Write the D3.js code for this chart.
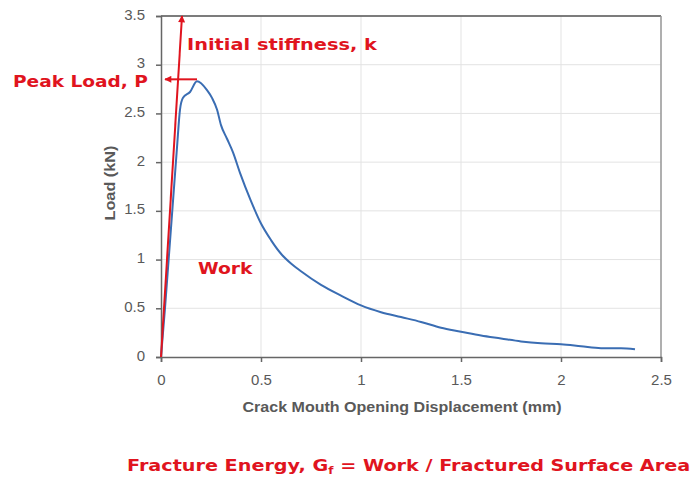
<!DOCTYPE html>
<html>
<head>
<meta charset="utf-8">
<script src="https://cdn.jsdelivr.net/npm/d3@7"></script>
<style>
  body { margin: 0; background: #fff; }
  svg { display: block; }
</style>
</head>
<body>
<script>
// load vs CMOD curve
const cmod = [0, 0.02, 0.04, 0.06, 0.08, 0.095, 0.11, 0.145, 0.18, 0.23, 0.255, 0.28, 0.3, 0.33, 0.36, 0.395, 0.45, 0.5, 0.55, 0.6, 0.65, 0.7, 0.8, 0.9, 1.0, 1.1, 1.2, 1.3, 1.4, 1.5, 1.6, 1.7, 1.8, 1.9, 2.0, 2.1, 2.2, 2.3, 2.37];
const load = [0, 0.5, 1.05, 1.6, 2.15, 2.54, 2.66, 2.72, 2.83, 2.74, 2.66, 2.54, 2.38, 2.24, 2.1, 1.89, 1.6, 1.37, 1.2, 1.06, 0.96, 0.88, 0.74, 0.63, 0.53, 0.46, 0.41, 0.36, 0.3, 0.26, 0.22, 0.19, 0.16, 0.14, 0.13, 0.11, 0.09, 0.09, 0.08];

const xTicks = [0, 0.5, 1, 1.5, 2, 2.5];
const yTicks = [0, 0.5, 1, 1.5, 2, 2.5, 3, 3.5];

const stiffnessLine = [[0, 0], [0.105, 3.5]];
const peakArrow = [[0.18, 2.85], [0.02, 2.85]];

const width = 695, height = 481;
const margin = {left: 161, right: 34, top: 16, bottom: 124};
const red = "#e0141e";
const grey = "#595959";

const x = d3.scaleLinear().domain([0, 2.5]).range([margin.left, width - margin.right]);
const y = d3.scaleLinear().domain([0, 3.5]).range([height - margin.bottom, margin.top]);

const svg = d3.select("body").append("svg")
  .attr("width", width)
  .attr("height", height);

const defs = svg.append("defs");
defs.append("marker")
  .attr("id", "arr")
  .attr("viewBox", "0 0 10 10")
  .attr("refX", 9).attr("refY", 5)
  .attr("markerWidth", 9).attr("markerHeight", 7)
  .attr("markerUnits", "userSpaceOnUse")
  .attr("orient", "auto")
  .append("path")
  .attr("d", "M0,0L10,5L0,10Z")
  .attr("fill", red);

// grid
svg.append("g")
  .selectAll("line")
  .data(xTicks.slice(1))
  .join("line")
  .attr("x1", d => x(d)).attr("x2", d => x(d))
  .attr("y1", y(0)).attr("y2", y(3.5))
  .attr("stroke", "#e3e3e3");
svg.append("g")
  .selectAll("line")
  .data(yTicks.slice(1))
  .join("line")
  .attr("x1", x(0)).attr("x2", x(2.5))
  .attr("y1", d => y(d)).attr("y2", d => y(d))
  .attr("stroke", "#e3e3e3");

// frame top and right
svg.append("line")
  .attr("x1", x(0)).attr("x2", x(2.5)).attr("y1", y(3.5)).attr("y2", y(3.5))
  .attr("stroke", "#555").attr("stroke-width", 1.5);
svg.append("line")
  .attr("x1", x(2.5)).attr("x2", x(2.5)).attr("y1", y(3.5)).attr("y2", y(0))
  .attr("stroke", "#999").attr("stroke-width", 1.5);

// axes
const xAxis = svg.append("g")
  .attr("transform", `translate(0,${y(0)})`)
  .call(d3.axisBottom(x).tickValues(xTicks).tickSize(5).tickPadding(12).tickFormat(d3.format("")));
const yAxis = svg.append("g")
  .attr("transform", `translate(${x(0)},0)`)
  .call(d3.axisLeft(y).tickValues(yTicks).tickSize(5).tickPadding(11).tickFormat(d3.format("")));

[xAxis, yAxis].forEach(a => {
  a.select(".domain").attr("stroke", "#666").attr("stroke-width", 1.5);
  a.selectAll(".tick line").attr("stroke", "#666").attr("stroke-width", 1.5);
  a.selectAll("text")
    .attr("fill", grey)
    .style("font-family", "'Liberation Sans', Arial, sans-serif")
    .style("font-size", "15px");
});
// tick labels sit a touch above their gridlines in the picture
yAxis.selectAll(".tick text").attr("dy", "0.2em");

svg.append("text")
  .attr("x", (x(0) + x(2.5)) / 2 - 9)
  .attr("y", 412)
  .attr("text-anchor", "middle")
  .attr("fill", grey)
  .attr("textLength", 319)
  .attr("lengthAdjust", "spacingAndGlyphs")
  .style("font-family", "'Liberation Sans', Arial, sans-serif")
  .style("font-size", "15px")
  .style("font-weight", "bold")
  .text("Crack Mouth Opening Displacement (mm)");

svg.append("text")
  .attr("transform", `translate(110,183) rotate(-90)`)
  .attr("text-anchor", "middle")
  .attr("dy", "0.35em")
  .attr("fill", grey)
  .attr("textLength", 75)
  .attr("lengthAdjust", "spacingAndGlyphs")
  .style("font-family", "'Liberation Sans', Arial, sans-serif")
  .style("font-size", "15px")
  .style("font-weight", "bold")
  .text("Load (kN)");

// curve
const line = d3.line().x(d => x(d[0])).y(d => y(d[1])).curve(d3.curveMonotoneX);
svg.append("path")
  .datum(d3.zip(cmod, load))
  .attr("d", line)
  .attr("fill", "none")
  .attr("stroke", "#3a6db3")
  .attr("stroke-width", 2);

// annotations
const straight = d3.line().x(d => x(d[0])).y(d => y(d[1]));
svg.append("path")
  .attr("d", straight(stiffnessLine))
  .attr("stroke", red).attr("stroke-width", 2).attr("fill", "none")
  .attr("marker-end", "url(#arr)");
svg.append("path")
  .attr("d", straight(peakArrow))
  .attr("stroke", red).attr("stroke-width", 2).attr("fill", "none")
  .attr("marker-end", "url(#arr)");

// red labels, slightly wide lettering as in the picture
const label = (tx, ty, sx, str) => svg.append("text")
  .attr("transform", `translate(${tx},${ty}) scale(${sx},1)`)
  .attr("fill", red)
  .style("font-family", "'DejaVu Sans', Verdana, sans-serif")
  .style("font-size", "16px")
  .style("font-weight", "bold")
  .text(str);

label(187, 50, 1.21, "Initial stiffness, k");
label(13, 87, 1.16, "Peak Load, P");
label(198, 274, 1.17, "Work");

const fe = label(127, 471, 1.2, "Fracture Energy, G");
fe.append("tspan").attr("dy", 3).style("font-size", "10px").text("f");
fe.append("tspan").attr("dy", -3).text(" = Work / Fractured Surface Area");
</script>
</body>
</html>
